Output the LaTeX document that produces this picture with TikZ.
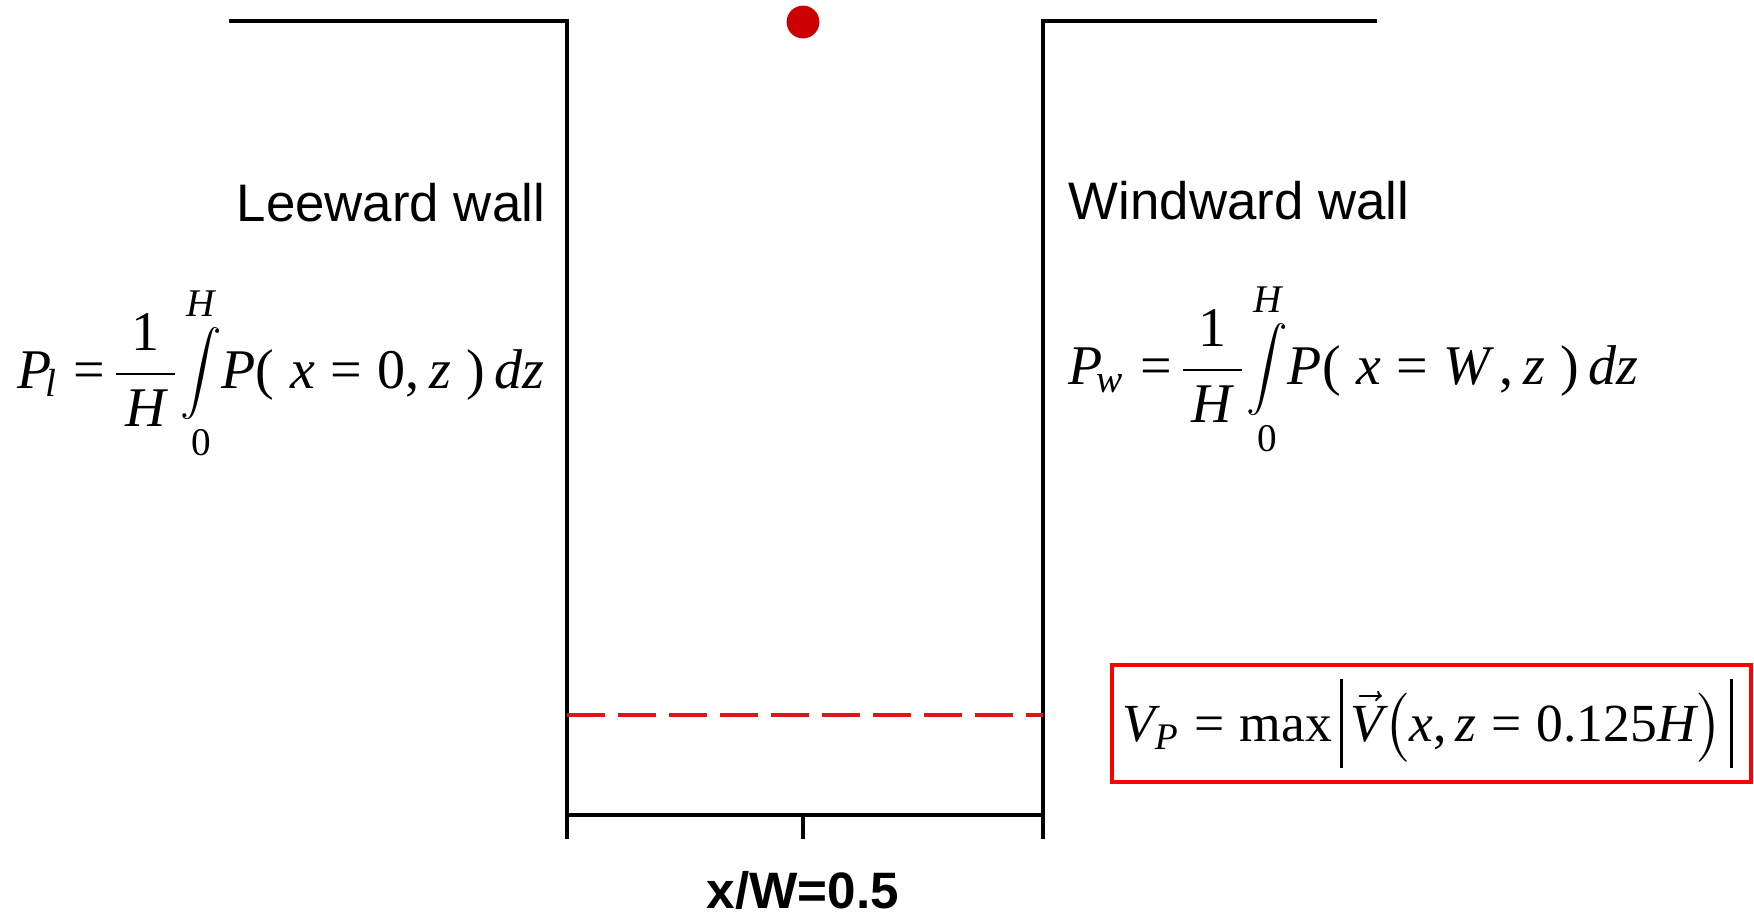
\RequirePackage{fix-cm}
\documentclass[tikz,border=0pt]{standalone}
\usepackage{amsmath}
\usepackage{graphicx}
\usepackage{fontspec}
\setmainfont{Liberation Serif}
\newfontfamily\arialfont{Liberation Sans}
\newcommand\mi[1]{\textit{#1}}
\newcommand\mr[1]{\textup{#1}}
\newcommand\myeq{\mathrel{\mr{=}}}
\newcommand\myint{\mathop{\vcenter{\hbox{\scalebox{0.72}{$\displaystyle\int$}}}}\limits}
\newcommand\absbar{\kern2pt\vrule height 15.5pt depth 6.75pt width 0.6pt\kern2pt}
\definecolor{dotred}{HTML}{CC0000}
\definecolor{dashred}{HTML}{DD1515}
\definecolor{boxred}{HTML}{FF0000}
\tikzset{
  wall/.style={line width=0.85pt, black, line cap=rect},
  walllabel/.style={font=\arialfont\fontsize{13.2}{15}\selectfont, inner sep=0pt, anchor=base west},
  formula/.style={font=\fontsize{14}{17}\selectfont, inner sep=0pt, anchor=base west},
  axislabel/.style={font=\arialfont\bfseries\fontsize{12.8}{14}\selectfont, inner sep=0pt, anchor=base},
  probe/.style={circle, fill=dotred, inner sep=0pt, minimum size=8.2pt},
  profile/.style={dashred, line width=0.9pt, dash pattern=on 9.5pt off 3.25pt},
  vpbox/.style={draw=boxred, line width=1.1pt, inner sep=0pt, minimum width=159.75pt, minimum height=29.25pt}
}
\begin{document}
\begin{tikzpicture}[x=0.25pt,y=-0.25pt]
\useasboundingbox (0,0) rectangle (1754,915);
% coordinates
\coordinate (ltop0) at (231,21);
\coordinate (ltop) at (567,21);
\coordinate (lbot) at (567,815);
\coordinate (rtop0) at (1375,21);
\coordinate (rtop) at (1043,21);
\coordinate (rbot) at (1043,815);
\coordinate (ltick) at (567,837);
\coordinate (rtick) at (1043,837);
\coordinate (mtop) at (803,815);
\coordinate (mtick) at (803,837);
\coordinate (dl) at (567,715);
\coordinate (dr) at (1043,715);
% walls and floor
\draw[wall] (ltop0) -- (ltop) -- (ltick);
\draw[wall] (rtop0) -- (rtop) -- (rtick);
\draw[wall] (lbot) -- (rbot);
\draw[wall] (mtop) -- (mtick);
% dashed profile line
\draw[profile] (dl) -- (dr);
% probe dot
\node[probe] (dot) at (803,22) {};
% labels
\node[walllabel] (lee) at (236,221) {Leeward wall};
\node[walllabel] (wind) at (1068,219) {Windward wall};
\node[formula] (pl) at (17,388) {$\mi{P}_{\!\mi{l}} \myeq\mkern-3mu \dfrac{\,\mr{1}\,}{\,\mi{H}\,}\!\myint_{\mr{0}}^{\mi{H}}\mkern-3mu\mi{P}\mr{(}\;\mi{x} \myeq \mr{0}\mr{,}\,\mi{z}\;\mr{)}\,\mi{dz}$};
\node[formula] (pw) at (1068,384) {$\mi{P}_{\!\mi{w}} \myeq\mkern-3mu \dfrac{\,\mr{1}\,}{\,\mi{H}\,}\!\myint_{\mr{0}}^{\mi{H}}\mkern-3mu\mi{P}\mr{(}\;\mi{x} \myeq \mi{W}\,\mr{,}\,\mi{z}\;\mr{)}\,\mi{dz}$};
\node[vpbox] (vp) at (1431.5,723.5) {\fontsize{13.4}{16}\selectfont$\mi{V}_{\mi{P}} \myeq \mr{max}\mathopen{\absbar}\vec{\mi{V}}\bigl(\mi{x}\mr{,}\,\mi{z} \myeq \mr{0.125}\mi{H}\bigr)\mathclose{\absbar}$};
\node[axislabel] (xw) at (803,908) {x/W=0.5};
\end{tikzpicture}
\end{document}
